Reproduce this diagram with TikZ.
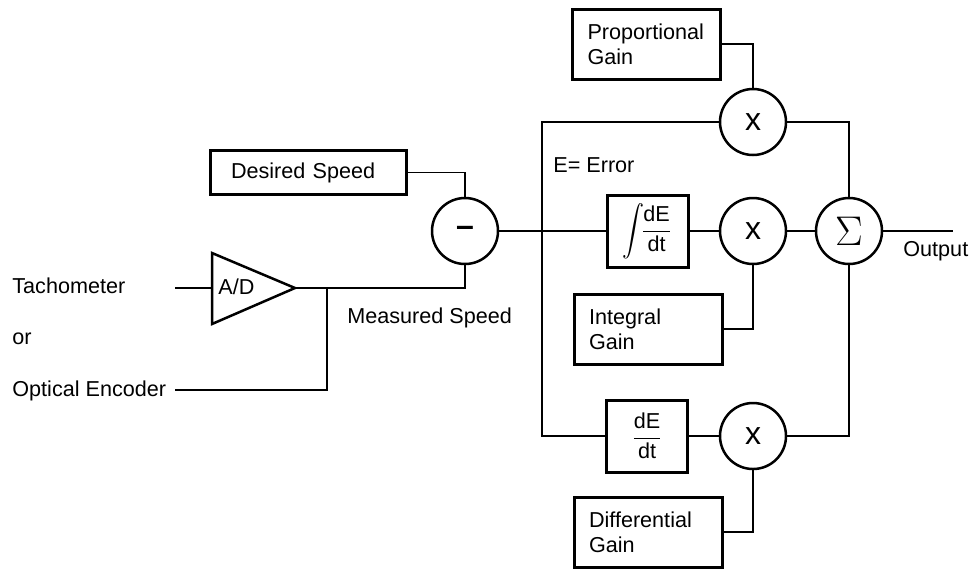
\documentclass[tikz,border=0pt]{standalone}
\usepackage{fontspec}
\setmainfont{Liberation Sans}
\usetikzlibrary{positioning}

\begin{document}
\begin{tikzpicture}[
    x=0.5pt, y=-0.5pt,
    font=\fontsize{10.8}{12.5}\selectfont,
    box/.style={draw, line width=1.5pt, align=left, inner ysep=0pt},
    gainbox/.style={box, inner xsep=7.5pt, text width=59pt, minimum height=35pt},
    opbox/.style={draw, line width=1.5pt, inner sep=0pt,
        minimum width=40.5pt, minimum height=36pt},
    op/.style={draw, circle, line width=1.25pt, inner sep=0pt, minimum size=33pt},
    opsign/.style={op, font=\fontsize{16}{16}\selectfont},
    wire/.style={line width=0.65pt},
    lbl/.style={anchor=base west, inner sep=0pt}
]
\useasboundingbox (0,0) rectangle (977,569);

% blocks
\node[box, inner xsep=10.5pt, text width=77pt, minimum height=22pt] (desired) at (308,172.5) {Desired Speed};
\node[gainbox] (propgain) at (646.5,44)  {Proportional\\Gain};
\node[gainbox] (intgain)  at (648,329)   {Integral\\Gain};
\node[gainbox] (diffgain) at (648,532)   {Differential\\Gain};
\node[opbox] (intbox) at (647.5,231) {$\vcenter{\hbox{\scalebox{1.1}[1.25]{$\displaystyle\int$}}}\!\displaystyle\frac{\mbox{dE}}{\mbox{dt}}$};
\node[opbox] (derbox) at (647,436)   {$\displaystyle\frac{\mbox{dE}}{\mbox{dt}}$};

% operators
\node[opsign] (minus) at (465,231) {\bfseries --};
\node[opsign] (xprop) at (753,122) {x};
\node[opsign] (xint)  at (753,231) {x};
\node[opsign] (xder)  at (753,436) {x};
\node[op, font=\fontsize{20}{20}\selectfont] (sum) at (849,231) {$\Sigma$};

% A/D converter
\coordinate (adin)  at (212,288);
\coordinate (adout) at (295,288);
\draw[line width=1.25pt, line join=miter] (212,253) -- (adout) -- (212,324) -- cycle;
\node[lbl] (adtext) at (218,294) {A/D};

% labels
\node[lbl] (tacho)   at (12,293)  {Tachometer};
\node[lbl] (ortext)  at (12,344)  {or};
\node[lbl] (optical) at (12,396)  {Optical Encoder};
\node[lbl] (meas)    at (347,323) {Measured Speed};
\node[lbl] (errtext) at (553,172) {E= Error};
\node[lbl] (outtext) at (903,256) {Output};

% wiring
\coordinate (tachin) at (175,288);
\coordinate (optin)  at (175,390);
\coordinate (tap)    at (327,288);
\coordinate (ejunc)  at (542,231);
\coordinate (outend) at (953,231);

\draw[wire] (tachin) -- (adin);
\draw[wire] (adout) -| (minus.south);
\draw[wire] (optin) -| (tap);
\draw[wire] (desired.east) -| (minus.north);
\draw[wire] (minus.east) -- (intbox.west);
\draw[wire] (xprop.west) -| (ejunc) |- (derbox.west);
\draw[wire] (intbox.east) -- (xint.west);
\draw[wire] (xint.east) -- (sum.west);
\draw[wire] (derbox.east) -- (xder.west);
\draw[wire] (propgain.east) -| (xprop.north);
\draw[wire] (intgain.east) -| (xint.south);
\draw[wire] (diffgain.east) -| (xder.south);
\draw[wire] (xprop.east) -| (sum.north);
\draw[wire] (xder.east) -| (sum.south);
\draw[wire] (sum.east) -- (outend);
\end{tikzpicture}
\end{document}
